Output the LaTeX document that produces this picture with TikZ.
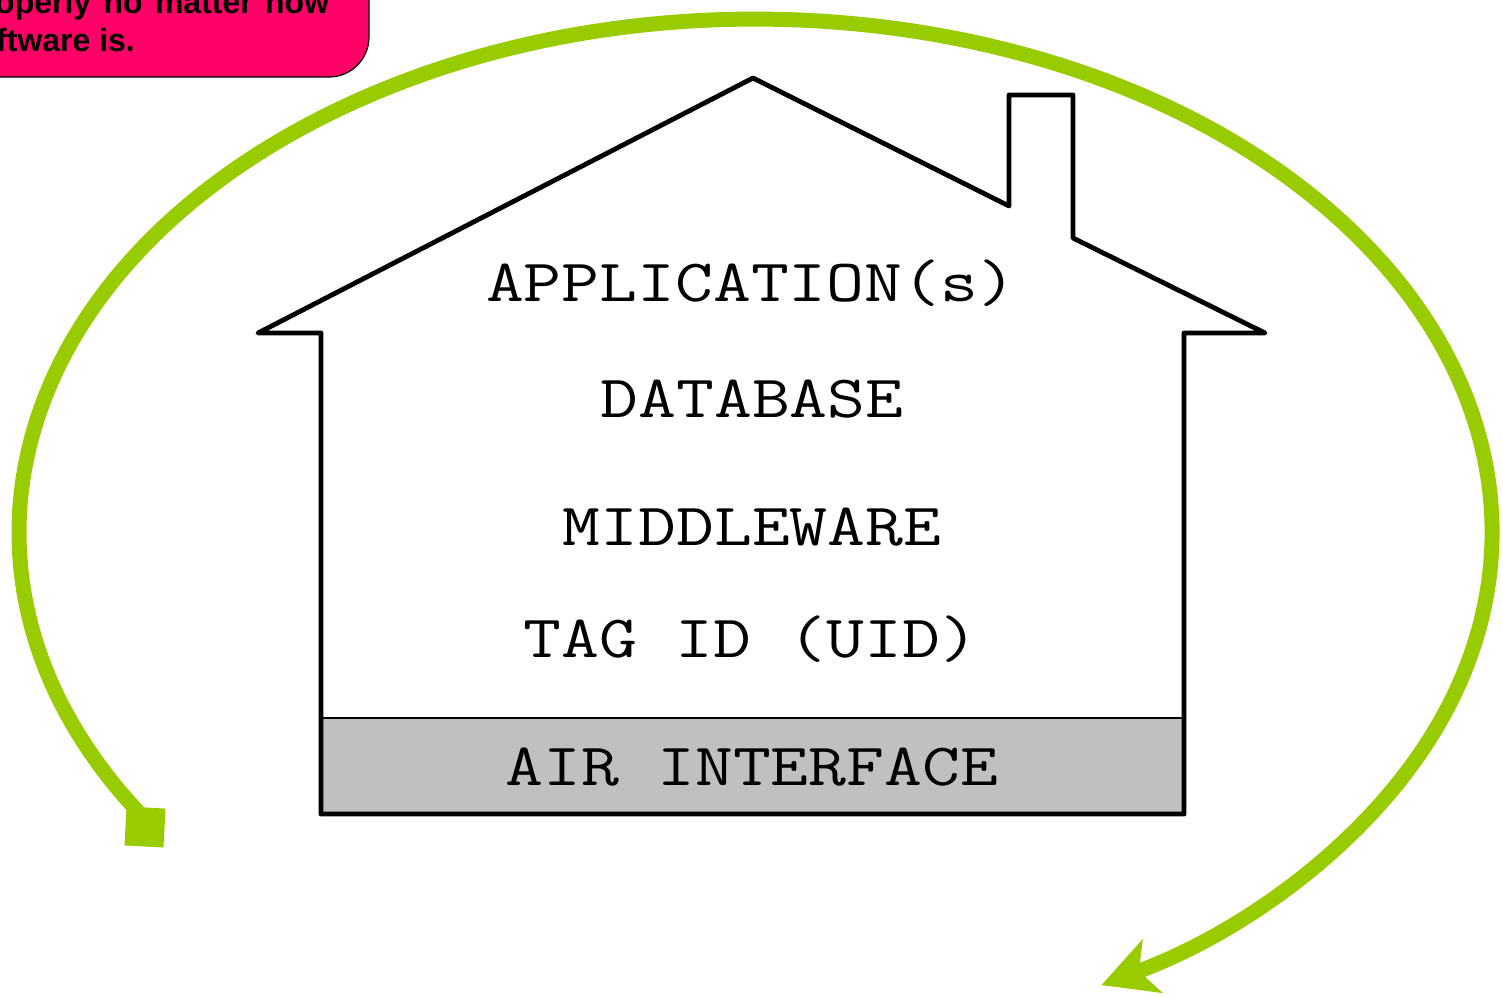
\documentclass[tikz,border=0pt]{standalone}
\usepackage{fontspec}
\usepackage{tikz}
\usetikzlibrary{arrows.meta, calc}
\newfontfamily\calloutfont{Liberation Sans}
\definecolor{cyclegreen}{RGB}{153,204,0}
\definecolor{calloutpink}{RGB}{255,0,102}
\definecolor{airgray}{RGB}{192,192,192}

\begin{document}
\begin{tikzpicture}[x=1pt, y=-1pt,
  layer/.style={font=\ttfamily\fontsize{60}{72}\selectfont, xscale=1.225, anchor=base, inner sep=0pt},
  callout/.style={font=\calloutfont\bfseries\fontsize{32}{38}\selectfont, anchor=base west, inner sep=0pt}]
\path[use as bounding box, clip] (0,0) rectangle (1503,997);
% Callout
\draw[fill=calloutpink, rounded corners=40pt, line width=1.2pt] (-60,-120) rectangle (369,77);
\node[callout] (callout1) at (-5,13) {\makebox[334pt][s]{operly no matter how}};
\node[callout] (callout2) at (-4,51) {ftware is.};
% Air interface band
\draw[fill=airgray, line width=1.5pt] (321,718) rectangle (1184,814);
% House
\draw[line width=4.8pt, line join=round] (321,333) -- (258,333) -- (753,78) -- (1009,206)
  -- (1009,95) -- (1073,95) -- (1073,238) -- (1265,333) -- (1184,333) -- (1184,814)
  -- (321,814) -- cycle;
% Layers
\node[layer] (app) at (751,301) {APPLICATION(s)};
\node[layer] (db) at (752,417) {DATABASE};
\node[layer] (mw) at (752,545) {MIDDLEWARE};
\node[layer] (uid) at (751,657) {TAG ID (UID)};
\node[layer] (air) at (752,785) {AIR INTERFACE};
% Cycle
\coordinate (arcstart) at (145,819);
\draw[cyclegreen, line width=15pt, -{Stealth[length=54pt, width=56pt, inset=14pt]}]
  (arcstart) arc[start angle=146, end angle=422, x radius=736.5, y radius=513];
\node[fill=cyclegreen, minimum size=39pt, inner sep=0pt, rotate=-3] (startsq) at (145,827) {};
\end{tikzpicture}
\end{document}
